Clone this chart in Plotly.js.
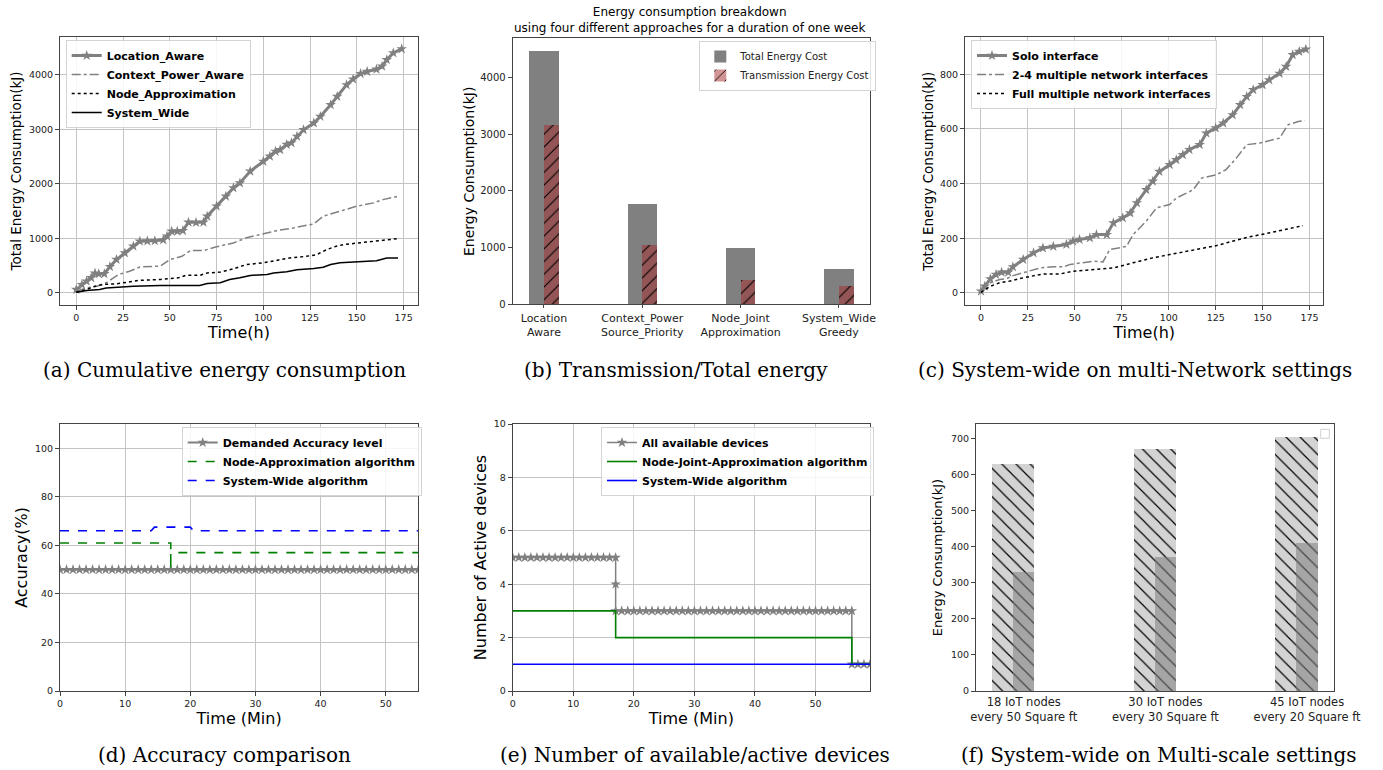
<!DOCTYPE html>
<html>
<head>
<meta charset="utf-8">
<script src="https://cdn.plot.ly/plotly-3.0.1.min.js"></script>
<style>html,body{margin:0;padding:0;background:#fff;}#chart{width:1383px;height:770px;}</style>
</head>
<body>
<div id="chart"></div>
<script>
// ---------- (a) Cumulative energy consumption ----------
const locAwareT = [0, 3, 5.5, 8, 10, 12, 15, 18, 21.5, 26, 30.5, 34, 38, 42, 46.5, 48.5, 51, 54, 57, 60, 64, 68, 70, 75, 80, 84, 87.5, 93, 100, 103.5, 106.5, 109, 112.5, 115, 118, 121.5, 127, 130.5, 136, 139.5, 144.5, 148, 152, 155.5, 160.5, 163.5, 166, 169.5, 174];
const locAwareE = [60, 150, 215, 275, 360, 350, 350, 480, 610, 730, 855, 945, 950, 955, 970, 1040, 1130, 1130, 1140, 1295, 1290, 1295, 1405, 1590, 1770, 1925, 2015, 2230, 2410, 2505, 2595, 2625, 2720, 2750, 2870, 2990, 3115, 3235, 3450, 3600, 3815, 3920, 4020, 4060, 4100, 4155, 4275, 4400, 4475];
const ctxPowerT = [0, 5.5, 11, 16, 22.5, 28.5, 34, 45, 50, 56.5, 61, 68, 75, 84, 91, 100, 107, 116, 127, 132, 137.5, 143, 150, 159, 164, 172];
const ctxPowerE = [30, 90, 120, 185, 335, 395, 475, 490, 610, 670, 775, 775, 845, 915, 1010, 1080, 1140, 1190, 1265, 1405, 1465, 1525, 1590, 1650, 1710, 1770];
const nodeApproxT = [0, 5.5, 10, 14.5, 21.5, 30.5, 34, 45, 54.5, 59, 66, 70, 77, 84, 91, 100, 105, 114, 123, 128.5, 134, 139, 143, 152, 160.5, 166, 172];
const nodeApproxE = [12, 60, 120, 155, 165, 215, 230, 245, 275, 325, 320, 365, 380, 440, 520, 550, 580, 640, 670, 700, 795, 855, 885, 915, 945, 975, 995];
const sysWideT = [0, 5.5, 12.5, 16, 30.5, 45, 59, 66, 70, 77, 82, 87.5, 93, 102, 105.5, 112.5, 118, 127, 132, 136, 141, 152, 160.5, 166, 172];
const sysWideE = [12, 45, 60, 90, 120, 135, 135, 135, 170, 185, 245, 275, 320, 335, 365, 385, 425, 445, 470, 520, 550, 570, 590, 640, 640];

// ---------- (b) Transmission / Total energy ----------
const approaches = ["Location<br>Aware", "Context_Power<br>Source_Priority", "Node_Joint<br>Approximation", "System_Wide<br>Greedy"];
const approachPos = [0, 1, 2, 3];
const totalCost = [4470, 1766, 986, 616];
const transCost = [3162, 1044, 428, 328];

// ---------- (c) Multi-network settings ----------
const soloT = [0, 2, 5, 8, 11, 14.5, 17, 22.5, 28, 33, 38.5, 45.5, 49, 52.5, 58, 61.5, 67, 70.5, 75.5, 79.5, 83, 88, 91.5, 95, 100.5, 104, 107.5, 111, 116.5, 120, 125, 129, 134, 138, 141.5, 145, 150, 153.5, 159, 162.5, 166, 169.5, 173];
const soloE = [6, 24, 51, 67, 75, 75, 95, 122, 146, 164, 170, 177, 189, 195, 201, 213, 213, 256, 274, 292, 329, 377, 408, 444, 469, 487, 505, 524, 542, 584, 603, 621, 651, 688, 718, 743, 761, 779, 803, 828, 871, 883, 891];
const multi24T = [0, 5, 10, 13.5, 17, 22.5, 31.5, 38.5, 44, 47.5, 54.5, 60, 65, 68.5, 77.5, 81, 88, 93.5, 100.5, 104, 109.5, 113, 117.5, 125.5, 130.5, 136, 141.5, 148.5, 159, 163.5, 169, 172.5];
const multi24E = [6, 37, 49, 51, 63, 73, 91, 95, 95, 104, 110, 116, 113, 158, 170, 213, 262, 311, 323, 347, 365, 377, 420, 432, 451, 493, 542, 548, 566, 615, 627, 631];
const fullMultiT = [0, 5, 10, 15.5, 22.5, 33, 42, 49, 56, 65, 70.5, 81, 91.5, 100.5, 109.5, 116.5, 125.5, 134, 143, 152, 161, 171.5];
const fullMultiE = [2, 24, 37, 43, 55, 69, 69, 79, 83, 89, 91, 110, 128, 140, 152, 161, 173, 189, 205, 217, 231, 246];

// ---------- (d) Accuracy comparison ----------
const demandT = [0,1,2,3,4,5,6,7,8,9,10,11,12,13,14,15,16,17,18,19,20,21,22,23,24,25,26,27,28,29,30,31,32,33,34,35,36,37,38,39,40,41,42,43,44,45,46,47,48,49,50,51,52,53,54,55];
const demandAcc = [50,50,50,50,50,50,50,50,50,50,50,50,50,50,50,50,50,50,50,50,50,50,50,50,50,50,50,50,50,50,50,50,50,50,50,50,50,50,50,50,50,50,50,50,50,50,50,50,50,50,50,50,50,50,50,50];
const nodeAccT = [0, 17, 17, 17, 55];
const nodeAcc = [61, 61, 50, 57, 57];
const sysAccT = [0, 14, 14.5, 20, 20.5, 55];
const sysAcc = [66, 66, 67.5, 67.5, 66, 66];

// ---------- (e) Number of available / active devices ----------
const availT = [0,1,2,3,4,5,6,7,8,9,10,11,12,13,14,15,16,17,17,17,18,19,20,21,22,23,24,25,26,27,28,29,30,31,32,33,34,35,36,37,38,39,40,41,42,43,44,45,46,47,48,49,50,51,52,53,54,55,56,56,57,58,59];
const availN = [5,5,5,5,5,5,5,5,5,5,5,5,5,5,5,5,5,5,4,3,3,3,3,3,3,3,3,3,3,3,3,3,3,3,3,3,3,3,3,3,3,3,3,3,3,3,3,3,3,3,3,3,3,3,3,3,3,3,3,1,1,1,1];
const njaT = [0, 17, 17, 56, 56, 59];
const njaN = [3, 3, 2, 2, 1, 1];
const swT = [0, 59];
const swN = [1, 1];

// ---------- (f) Multi-scale settings ----------
const scales = ["18 IoT nodes<br>every 50 Square ft", "30 IoT nodes<br>every 30 Square ft", "45 IoT nodes<br>every 20 Square ft"];
const scalePos = [0, 1, 2];
const scaleTotal = [628, 672, 705];
const scalePart = [330, 371, 409];

// ================= layout helpers =================
const W = 1383, H = 770;
const fx = p => p / W;
const fy = p => 1 - p / H;
const TICKFONT = {family: "DejaVu Sans", size: 9.5, color: "#222"};
const SPINE = "#444";
const GRID = "#c4c4c4";

function xax(l, r, anchor, extra) {
  return Object.assign({
    domain: [fx(l), fx(r)], anchor: anchor,
    showline: true, mirror: true, linecolor: SPINE, linewidth: 1,
    ticks: "outside", ticklen: 4, tickcolor: SPINE,
    tickfont: TICKFONT, zeroline: false, showgrid: true, gridcolor: GRID, gridwidth: 1,
    automargin: false
  }, extra);
}
function yax(top, bot, anchor, extra) {
  return Object.assign({
    domain: [fy(bot), fy(top)], anchor: anchor,
    showline: true, mirror: true, linecolor: SPINE, linewidth: 1,
    ticks: "outside", ticklen: 4, tickcolor: SPINE,
    tickfont: TICKFONT, zeroline: false, showgrid: true, gridcolor: GRID, gridwidth: 1,
    automargin: false
  }, extra);
}
function legendAt(x, y, size) {
  return {x: fx(x), y: fy(y), xanchor: "left", yanchor: "top",
    bgcolor: "rgba(255,255,255,0.85)", bordercolor: "#d4d4d4", borderwidth: 1,
    font: {family: "DejaVu Sans", size: size, color: "#000", weight: "bold"},
    tracegroupgap: 0, itemwidth: 30};
}

const GRAY = "#808080";
const TRANS = "rgba(165,42,42,0.5)";
const traces = [
  // (a)
  {x: locAwareT, y: locAwareE, name: "Location_Aware", type: "scatter", mode: "lines+markers",
   line: {color: GRAY, width: 3}, marker: {symbol: "star", size: 8, color: GRAY},
   xaxis: "x", yaxis: "y", legend: "legend"},
  {x: ctxPowerT, y: ctxPowerE, name: "Context_Power_Aware", type: "scatter", mode: "lines",
   line: {color: GRAY, width: 1.5, dash: "dashdot"}, xaxis: "x", yaxis: "y", legend: "legend"},
  {x: nodeApproxT, y: nodeApproxE, name: "Node_Approximation", type: "scatter", mode: "lines",
   line: {color: "#000", width: 1.5, dash: "dot"}, xaxis: "x", yaxis: "y", legend: "legend"},
  {x: sysWideT, y: sysWideE, name: "System_Wide", type: "scatter", mode: "lines",
   line: {color: "#000", width: 1.5}, xaxis: "x", yaxis: "y", legend: "legend"},
  // (b)
  {x: approachPos, y: totalCost, name: "Total Energy Cost", type: "bar", width: 0.3, offset: -0.15,
   marker: {color: GRAY, line: {width: 0}}, xaxis: "x2", yaxis: "y2", legend: "legend2"},
  {x: approachPos, y: transCost, name: "Transmission Energy Cost", type: "bar", width: 0.15, offset: 0,
   marker: {color: TRANS, line: {width: 0},
            pattern: {shape: "/", fgcolor: "#000", bgcolor: TRANS, size: 9, solidity: 0.12, fillmode: "replace"}},
   xaxis: "x2", yaxis: "y2", legend: "legend2"},
  // (c)
  {x: soloT, y: soloE, name: "Solo interface", type: "scatter", mode: "lines+markers",
   line: {color: GRAY, width: 3}, marker: {symbol: "star", size: 8, color: GRAY},
   xaxis: "x3", yaxis: "y3", legend: "legend3"},
  {x: multi24T, y: multi24E, name: "2-4 multiple network interfaces", type: "scatter", mode: "lines",
   line: {color: GRAY, width: 1.5, dash: "dashdot"}, xaxis: "x3", yaxis: "y3", legend: "legend3"},
  {x: fullMultiT, y: fullMultiE, name: "Full multiple network interfaces", type: "scatter", mode: "lines",
   line: {color: "#000", width: 1.5, dash: "dot"}, xaxis: "x3", yaxis: "y3", legend: "legend3"},
  // (d)
  {x: demandT, y: demandAcc, name: "Demanded Accuracy level", type: "scatter", mode: "lines+markers",
   line: {color: GRAY, width: 2}, marker: {symbol: "star", size: 8, color: GRAY},
   xaxis: "x4", yaxis: "y4", legend: "legend4"},
  {x: nodeAccT, y: nodeAcc, name: "Node-Approximation algorithm", type: "scatter", mode: "lines",
   line: {color: "#008000", width: 1.6, dash: "dash"}, xaxis: "x4", yaxis: "y4", legend: "legend4"},
  {x: sysAccT, y: sysAcc, name: "System-Wide algorithm", type: "scatter", mode: "lines",
   line: {color: "#0000ff", width: 1.6, dash: "dash"}, xaxis: "x4", yaxis: "y4", legend: "legend4"},
  // (e)
  {x: availT, y: availN, name: "All available devices", type: "scatter", mode: "lines+markers",
   line: {color: GRAY, width: 1.5}, marker: {symbol: "star", size: 8, color: GRAY},
   xaxis: "x5", yaxis: "y5", legend: "legend5"},
  {x: njaT, y: njaN, name: "Node-Joint-Approximation algorithm", type: "scatter", mode: "lines",
   line: {color: "#008000", width: 1.6}, xaxis: "x5", yaxis: "y5", legend: "legend5"},
  {x: swT, y: swN, name: "System-Wide algorithm", type: "scatter", mode: "lines",
   line: {color: "#0000ff", width: 1.6}, xaxis: "x5", yaxis: "y5", legend: "legend5"},
  // (f)
  {x: scalePos, y: scaleTotal, name: "total", type: "bar", width: 0.3, offset: -0.225, showlegend: false,
   marker: {color: "#d3d3d3", line: {width: 0},
            pattern: {shape: "\\", fgcolor: "#000", bgcolor: "#d3d3d3", size: 10, solidity: 0.12, fillmode: "replace"}},
   xaxis: "x6", yaxis: "y6"},
  {x: scalePos, y: scalePart, name: "part", type: "bar", width: 0.15, offset: -0.075, showlegend: false,
   marker: {color: "rgba(128,128,128,0.55)", line: {width: 0}},
   xaxis: "x6", yaxis: "y6"}
];

const ttl = (t, s, so) => ({text: t, standoff: so, font: {family: "DejaVu Sans", size: s, color: "#000"}});
const CAP = {family: "DejaVu Serif", size: 20, color: "#000"};
const cap = (t, x, y) => ({text: t, xref: "paper", yref: "paper", x: fx(x), y: fy(y), xanchor: "center", yanchor: "middle", showarrow: false, font: CAP});

const layout = {
  width: W, height: H, margin: {l: 0, r: 0, t: 0, b: 0},
  paper_bgcolor: "#fff", plot_bgcolor: "#fff",
  barmode: "overlay", bargap: 0,
  font: {family: "DejaVu Sans", color: "#000"},
  // (a)
  xaxis: xax(60, 418, "y", {range: [-8.7, 182.7], tickvals: [0,25,50,75,100,125,150,175], title: ttl("Time(h)", 16, 4)}),
  yaxis: yax(37, 305, "x", {range: [-223, 4693], tickvals: [0,1000,2000,3000,4000], title: ttl("Total Energy Consumption(kJ)", 13.5, 4)}),
  // (b)
  xaxis2: xax(512.7, 870, "y2", {range: [-0.318, 3.316], tickvals: approachPos, ticktext: approaches, showgrid: false, ticklen: 3,
    tickfont: {family: "DejaVu Sans", size: 11, color: "#222"}}),
  yaxis2: yax(38.3, 304.3, "x2", {range: [0, 4690], tickvals: [0,1000,2000,3000,4000], showgrid: false,
    tickfont: {family: "DejaVu Sans", size: 10, color: "#222"},
    title: ttl("Energy Consumption(kJ)", 14, 2)}),
  // (c)
  xaxis3: xax(965, 1323.3, "y3", {range: [-8.5, 182.3], tickvals: [0,25,50,75,100,125,150,175], title: ttl("Time(h)", 16, 4)}),
  yaxis3: yax(37.3, 305, "x3", {range: [-44.5, 935], tickvals: [0,200,400,600,800], title: ttl("Total Energy Consumption(kJ)", 13.5, 3)}),
  // (d)
  xaxis4: xax(60, 418.3, "y4", {range: [0, 55], tickvals: [0,10,20,30,40,50], title: ttl("Time (Min)", 16, 2)}),
  yaxis4: yax(424, 691, "x4", {range: [0, 110], tickvals: [0,20,40,60,80,100], title: ttl("Accuracy(%)", 16, 3)}),
  // (e)
  xaxis5: xax(512.7, 870, "y5", {range: [0, 59], tickvals: [0,10,20,30,40,50], title: ttl("Time (Min)", 16, 2)}),
  yaxis5: yax(424, 691, "x5", {range: [0, 10], tickvals: [0,2,4,6,8,10], title: ttl("Number of Active devices", 16, 3)}),
  // (f)
  xaxis6: xax(976, 1334, "y6", {range: [-0.337, 2.19], tickvals: scalePos, ticktext: scales, showgrid: false, ticklen: 0,
    tickfont: {family: "DejaVu Sans", size: 11.5, color: "#222"}}),
  yaxis6: yax(424, 691, "x6", {range: [0, 740], tickvals: [0,100,200,300,400,500,600,700], showgrid: false,
    tickfont: {family: "DejaVu Sans", size: 9.5, color: "#222"},
    title: ttl("Energy Consumption(kJ)", 13, 5)}),
  legend: legendAt(65.7, 40, 11),
  legend2: Object.assign(legendAt(699.3, 41, 10), {font: {family: "DejaVu Sans", size: 10, color: "#222"}}),
  legend3: legendAt(971, 40, 11),
  legend4: legendAt(181.7, 427, 11),
  legend5: legendAt(601, 427, 11),
  shapes: [
    {type: "rect", xref: "paper", yref: "paper", x0: fx(1320.7), x1: fx(1329.3), y0: fy(438.3), y1: fy(429.3),
     line: {color: "#d0d0d0", width: 1}, fillcolor: "rgba(255,255,255,0)"}
  ],
  annotations: [
    {text: "Energy consumption breakdown<br>using four different approaches for a duration of one week",
     xref: "paper", yref: "paper", x: fx(689.5), y: fy(3), xanchor: "center", yanchor: "top", showarrow: false,
     font: {family: "DejaVu Sans", size: 12, color: "#000"}},
    cap("(a) Cumulative energy consumption", 224, 370),
    cap("(b) Transmission/Total energy", 676, 370),
    cap("(c) System-wide on multi-Network settings", 1135, 370),
    cap("(d) Accuracy comparison", 224, 755),
    cap("(e) Number of available/active devices", 695, 755),
    cap("(f) System-wide on Multi-scale settings", 1158, 755)
  ]
};

Plotly.newPlot("chart", traces, layout, {displayModeBar: false, staticPlot: true});
</script>
</body>
</html>
